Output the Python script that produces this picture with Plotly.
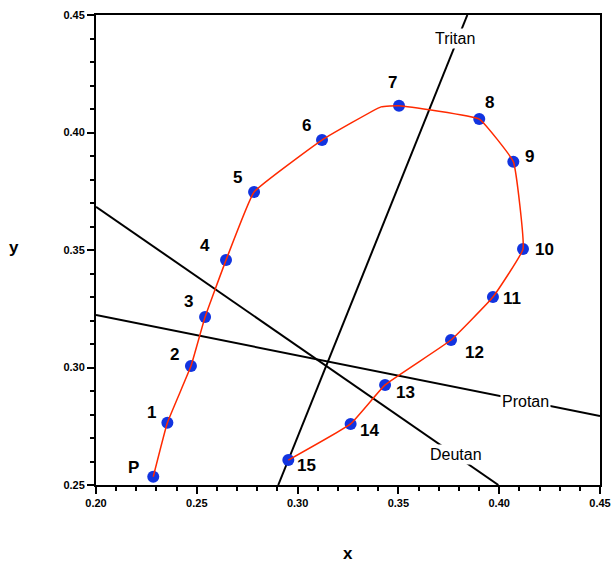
import plotly.graph_objects as go

# Sample chromaticities
labels = ["P", "1", "2", "3", "4", "5", "6", "7", "8", "9", "10", "11", "12", "13", "14", "15"]
px_ = [0.2284, 0.2354, 0.2471, 0.2541, 0.2645, 0.2784, 0.3121, 0.3503, 0.3901, 0.4070,
       0.4118, 0.3969, 0.3761, 0.3434, 0.3263, 0.2954]
py_ = [0.2535, 0.2765, 0.3006, 0.3215, 0.3457, 0.3747, 0.3968, 0.4114, 0.4057, 0.3876,
       0.3504, 0.3300, 0.3117, 0.2926, 0.2760, 0.2606]

# Red path (same points plus one extra vertex before 7)
path_x = px_[:7] + [0.3414] + px_[7:]
path_y = py_[:7] + [0.4109] + py_[7:]

# Confusion lines
protan_x = [0.20, 0.45]
protan_y = [0.3223, 0.2794]
deutan_x = [0.20, 0.3996]
deutan_y = [0.3684, 0.25]
tritan_x = [0.2904, 0.3842]
tritan_y = [0.25, 0.45]
line_names = ["Protan", "Deutan", "Tritan"]
line_label_x = [0.4128, 0.3786, 0.3781]
line_label_y = [0.2857, 0.2628, 0.4402]

# label offsets (pixels)
dx = [-20, -16, -16, -17, -21, -17, -15, -7, 10, 16, 22, 19, 23, 20, 19, 18]
dy = [9, 10, 12, 15, 15, 14, 15, 23, 17, 5, 0, -1, -12, -8, -7, -5]

fig = go.Figure()
for lx, ly in [(protan_x, protan_y), (deutan_x, deutan_y), (tritan_x, tritan_y)]:
    fig.add_trace(go.Scatter(x=lx, y=ly, mode="lines", line=dict(color="black", width=2),
                             hoverinfo="skip", showlegend=False))
fig.add_trace(go.Scatter(x=px_, y=py_, mode="markers",
                         marker=dict(color="#1234e0", size=12),
                         showlegend=False))
fig.add_trace(go.Scatter(x=path_x, y=path_y, mode="lines",
                         line=dict(color="#ff2a00", width=1.5, shape="spline", smoothing=0.3),
                         showlegend=False))

for name, x, y in zip(line_names, line_label_x, line_label_y):
    fig.add_annotation(x=x, y=y, text=name, showarrow=False, bgcolor="white",
                       font=dict(family="Liberation Sans", size=16, color="black"),
                       borderpad=1)

for lab, x, y, ox, oy in zip(labels, px_, py_, dx, dy):
    fig.add_annotation(x=x, y=y, text="<b>%s</b>" % lab, showarrow=False,
                       xshift=ox, yshift=oy,
                       font=dict(family="Liberation Sans", size=17, color="black"))

axis_common = dict(showline=True, linecolor="black", linewidth=2, mirror=True,
                   ticks="outside", ticklen=7, tickwidth=2, tickcolor="black",
                   showgrid=False, zeroline=False, dtick=0.05, tickformat=".2f",
                   automargin=False,
                   tickfont=dict(family="Liberation Sans", size=11, color="black", weight="bold"),
                   minor=dict(ticks="outside", ticklen=4, tickwidth=2, tickcolor="black", dtick=0.01,
                              showgrid=False))

fig.update_layout(
    width=612, height=565,
    margin=dict(l=96, r=12, t=15, b=80),
    paper_bgcolor="white", plot_bgcolor="white",
    xaxis=dict(range=[0.20, 0.45], tick0=0.2, **axis_common),
    yaxis=dict(range=[0.25, 0.45], tick0=0.25, **axis_common),
)
fig.add_annotation(text="<b>x</b>", xref="paper", yref="paper", x=0.5, y=-0.145,
                   xanchor="center", yanchor="middle", showarrow=False,
                   font=dict(family="Liberation Sans", size=17, color="black"))
fig.add_annotation(text="<b>y</b>", xref="paper", yref="paper", x=-0.163, y=0.505,
                   xanchor="center", yanchor="middle", showarrow=False,
                   font=dict(family="Liberation Sans", size=17, color="black"))

fig.write_html("out.html")
